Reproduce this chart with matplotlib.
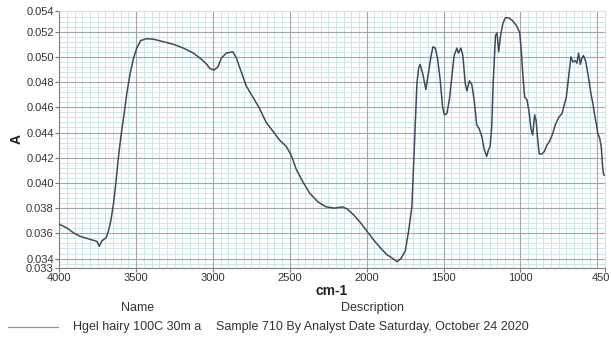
import matplotlib
matplotlib.use("Agg")
import matplotlib.pyplot as plt
import matplotlib.transforms as mtransforms
from matplotlib.ticker import FixedLocator, FixedFormatter, MultipleLocator

plt.rcParams['font.family'] = ['Liberation Sans', 'DejaVu Sans']

# spectrum: wavenumber (cm-1) and absorbance
wavenumber = [4000, 3950, 3907, 3864, 3820, 3777, 3755, 3740, 3723, 3695,
              3680, 3665, 3647, 3632, 3615, 3597, 3578, 3561, 3539, 3517,
              3496, 3470, 3431, 3387, 3323, 3258, 3193, 3128, 3074, 3040,
              3022, 2994, 2968, 2946, 2913, 2870, 2848, 2816, 2784, 2740,
              2697, 2654, 2610, 2567, 2524, 2491, 2459, 2416, 2372, 2318,
              2264, 2210, 2156, 2123, 2080, 2037, 1994, 1950, 1907, 1868,
              1835, 1803, 1777, 1749, 1727, 1706, 1695, 1684, 1673, 1662,
              1652, 1634, 1615, 1597, 1582, 1569, 1554, 1539, 1522, 1506,
              1494, 1478, 1461, 1446, 1431, 1413, 1403, 1387, 1374, 1359,
              1348, 1331, 1316, 1301, 1284, 1268, 1251, 1236, 1219, 1208,
              1197, 1186, 1177, 1162, 1152, 1141, 1130, 1113, 1097, 1076,
              1054, 1039, 1022, 1004, 994, 983, 972, 957, 942, 931,
              920, 907, 898, 887, 877, 859, 844, 827, 810, 790,
              773, 751, 729, 714, 701, 686, 671, 658, 643, 632,
              621, 610, 600, 589, 574, 556, 541, 528, 517, 506,
              496, 485, 474, 465, 459, 455]
absorbance = [0.03672, 0.03642, 0.03603, 0.03576, 0.03560, 0.03544, 0.03536, 0.03497, 0.03540, 0.03566,
              0.03620, 0.03700, 0.03840, 0.04000, 0.04210, 0.04390, 0.04550, 0.04710, 0.04870, 0.04990,
              0.05070, 0.05130, 0.05144, 0.05140, 0.05120, 0.05100, 0.05070, 0.05030, 0.04980, 0.04940,
              0.04909, 0.04895, 0.04920, 0.04990, 0.05030, 0.05040, 0.04990, 0.04880, 0.04770, 0.04680,
              0.04590, 0.04480, 0.04410, 0.04340, 0.04290, 0.04220, 0.04110, 0.04010, 0.03920, 0.03850,
              0.03810, 0.03800, 0.03810, 0.03790, 0.03740, 0.03680, 0.03610, 0.03540, 0.03480, 0.03430,
              0.03405, 0.03375, 0.03400, 0.03460, 0.03620, 0.03810, 0.04130, 0.04470, 0.04790, 0.04910,
              0.04940, 0.04860, 0.04740, 0.04880, 0.05000, 0.05080, 0.05070, 0.04990, 0.04820, 0.04600,
              0.04540, 0.04550, 0.04670, 0.04840, 0.05010, 0.05070, 0.05030, 0.05070, 0.05010, 0.04790,
              0.04730, 0.04810, 0.04780, 0.04660, 0.04460, 0.04430, 0.04370, 0.04270, 0.04210, 0.04260,
              0.04290, 0.04450, 0.04790, 0.05170, 0.05190, 0.05040, 0.05160, 0.05270, 0.05310, 0.05310,
              0.05290, 0.05270, 0.05240, 0.05190, 0.05050, 0.04840, 0.04680, 0.04660, 0.04550, 0.04430,
              0.04380, 0.04540, 0.04500, 0.04340, 0.04230, 0.04230, 0.04250, 0.04300, 0.04330, 0.04390,
              0.04460, 0.04520, 0.04550, 0.04620, 0.04680, 0.04840, 0.05000, 0.04960, 0.04970, 0.04950,
              0.05030, 0.04940, 0.04990, 0.05010, 0.04960, 0.04830, 0.04710, 0.04630, 0.04540, 0.04470,
              0.04390, 0.04360, 0.04290, 0.04130, 0.04070, 0.04060]

y_lo, y_hi = 0.03329, 0.05364
y_ticks = [y_lo, 0.034, 0.036, 0.038, 0.040, 0.042, 0.044, 0.046, 0.048, 0.050, 0.052, y_hi]
y_labels = ['0.033', '0.034', '0.036', '0.038', '0.040', '0.042', '0.044',
            '0.046', '0.048', '0.050', '0.052', '0.054']
x_ticks = [4000, 3500, 3000, 2500, 2000, 1500, 1000, 450]
x_labels = ['4000', '3500', '3000', '2500', '2000', '1500', '1000', '450']
x_grid = [3500, 3000, 2500, 2000, 1500, 1000, 500]
y_grid = [0.034, 0.036, 0.038, 0.040, 0.042, 0.044, 0.046, 0.048, 0.050, 0.052]

fig = plt.figure(figsize=(6.11, 3.39), dpi=100, facecolor='w')
ax = fig.add_axes([0.0971, 0.2109, 0.8929, 0.7567])

ax.plot(wavenumber, absorbance, color='#3d4a5f', linewidth=1.1, zorder=3)

ax.set_xlim(4000, 450)
ax.set_ylim(y_lo, y_hi)

ax.xaxis.set_major_locator(FixedLocator(x_ticks))
ax.xaxis.set_major_formatter(FixedFormatter(x_labels))
ax.xaxis.set_minor_locator(MultipleLocator(50))
ax.yaxis.set_major_locator(FixedLocator(y_ticks))
ax.yaxis.set_major_formatter(FixedFormatter(y_labels))
ax.yaxis.set_minor_locator(MultipleLocator(0.0004))

# fine grid underneath, darker major lines on top of it
ax.grid(which='minor', color='#cce6eb', linewidth=0.7)
ax.set_axisbelow(True)
for xv in x_grid:
    ax.axvline(xv, color='#a0a6aa', linewidth=0.8, zorder=1)
for yv in y_grid:
    ax.axhline(yv, color='#a0a6aa', linewidth=0.8, zorder=1)

ax.tick_params(which='major', length=3, width=0.8, color='#777777',
               labelsize=8, labelcolor='#333333', pad=1)
ax.tick_params(which='minor', length=0)
for side in ('left', 'bottom'):
    ax.spines[side].set_color('#888888')
    ax.spines[side].set_linewidth(0.9)
for side in ('top', 'right'):
    ax.spines[side].set_color('#cce6eb')
    ax.spines[side].set_linewidth(0.7)

# last x label sits a little inside the figure edge
shift = mtransforms.ScaledTranslation(-4 / 100, 0, fig.dpi_scale_trans)
last = ax.get_xticklabels()[-1]
last.set_transform(last.get_transform() + shift)

ax.set_xlabel('cm-1', fontsize=10, fontweight='bold', color='#222222', labelpad=1)
ax.set_ylabel('A', fontsize=10, fontweight='bold', color='#222222', labelpad=2)

# legend block under the plot
fig.text(138 / 611, 1 - 308 / 339, 'Name', ha='center', va='center', fontsize=9, color='#333333')
fig.text(372 / 611, 1 - 308 / 339, 'Description', ha='center', va='center', fontsize=9, color='#333333')
fig.add_artist(plt.Line2D([8 / 611, 58 / 611], [1 - 327 / 339, 1 - 327 / 339],
                          color='#8b97a3', linewidth=0.9))
fig.text(73 / 611, 1 - 327 / 339, 'Hgel hairy 100C 30m a', ha='left', va='center',
         fontsize=9, color='#333333')
fig.text(216 / 611, 1 - 327 / 339, 'Sample 710 By Analyst Date Saturday, October 24 2020',
         ha='left', va='center', fontsize=9, color='#333333')

fig.savefig('out.png', dpi=100)
plt.close(fig)
